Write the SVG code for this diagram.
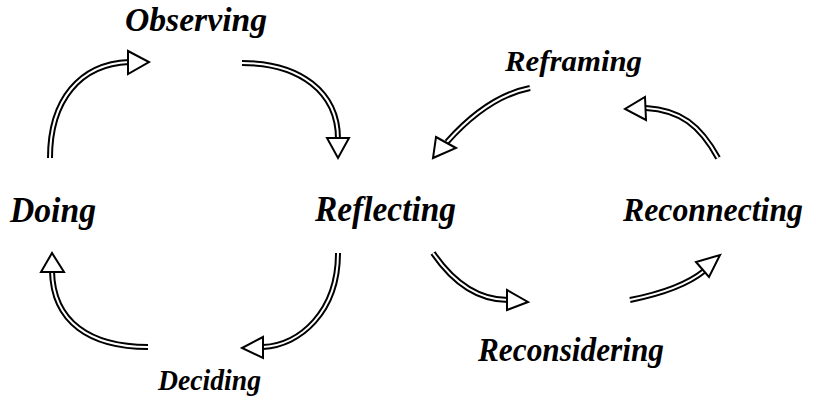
<svg xmlns="http://www.w3.org/2000/svg" xmlns:xlink="http://www.w3.org/1999/xlink" width="816" height="402" viewBox="0 0 816 402">
<style>
.lbl{font-family:"Liberation Serif","Times New Roman",serif;font-weight:bold;font-style:italic;fill:#000}
.outer{fill:none;stroke:#000;stroke-width:6}
.inner{fill:none;stroke:#fff;stroke-width:2}
.head{fill:#fff;stroke:#000;stroke-width:2;stroke-linejoin:miter}
</style>
<rect width="816" height="402" fill="#fff"/>
<defs>
<path id="p1" d="M50,158 C50,100 80,64 129,62"/>
<path id="p2" d="M242,63 C300,63 338,92 338,139"/>
<path id="p3" d="M148,347 C90,347 53,322 52,271"/>
<path id="p4" d="M338,253 C338,312 300,345 263,347"/>
<path id="p5" d="M530,88 C500,94 472,114 447,142"/>
<path id="p6" d="M433,253 C455,285 480,300 508,300"/>
<path id="p7" d="M718,158 C700,125 680,110 646,108"/>
<path id="p8" d="M630,300 C665,293 688,284 704,271"/>
</defs>
<g id="connectors">
<g id="c1"><use xlink:href="#p1" class="outer"/><use xlink:href="#p1" class="inner"/><polygon class="head" points="128,51 149,62 128,74"/></g>
<g id="c2"><use xlink:href="#p2" class="outer"/><use xlink:href="#p2" class="inner"/><polygon class="head" points="327,138 349,138 338,158"/></g>
<g id="c3"><use xlink:href="#p3" class="outer"/><use xlink:href="#p3" class="inner"/><polygon class="head" points="41,272 64,272 52,253"/></g>
<g id="c4"><use xlink:href="#p4" class="outer"/><use xlink:href="#p4" class="inner"/><polygon class="head" points="263,337 263,358 242,348"/></g>
<g id="c5"><use xlink:href="#p5" class="outer"/><use xlink:href="#p5" class="inner"/><polygon class="head" points="436,137 456,148 433,158"/></g>
<g id="c6"><use xlink:href="#p6" class="outer"/><use xlink:href="#p6" class="inner"/><polygon class="head" points="507,290 507,310 528,302"/></g>
<g id="c7"><use xlink:href="#p7" class="outer"/><use xlink:href="#p7" class="inner"/><polygon class="head" points="645,97 646,120 625,109"/></g>
<g id="c8"><use xlink:href="#p8" class="outer"/><use xlink:href="#p8" class="inner"/><polygon class="head" points="696,262 709,277 720,255"/></g>
</g>
<g id="observing"><text class="lbl" x="125" y="31" font-size="33" textLength="142" lengthAdjust="spacingAndGlyphs">Observing</text></g>
<g id="doing"><text class="lbl" x="10" y="222" font-size="35" textLength="86" lengthAdjust="spacingAndGlyphs">Doing</text></g>
<g id="reflecting"><text class="lbl" x="315" y="221" font-size="35" textLength="141" lengthAdjust="spacingAndGlyphs">Reflecting</text></g>
<g id="reconnecting"><text class="lbl" x="623" y="221" font-size="33" textLength="180" lengthAdjust="spacingAndGlyphs">Reconnecting</text></g>
<g id="reframing"><text class="lbl" x="505" y="71" font-size="29" textLength="137" lengthAdjust="spacingAndGlyphs">Reframing</text></g>
<g id="reconsidering"><text class="lbl" x="478" y="361" font-size="34" textLength="186" lengthAdjust="spacingAndGlyphs">Reconsidering</text></g>
<g id="deciding"><text class="lbl" x="158" y="390" font-size="29" textLength="103" lengthAdjust="spacingAndGlyphs">Deciding</text></g>
</svg>
